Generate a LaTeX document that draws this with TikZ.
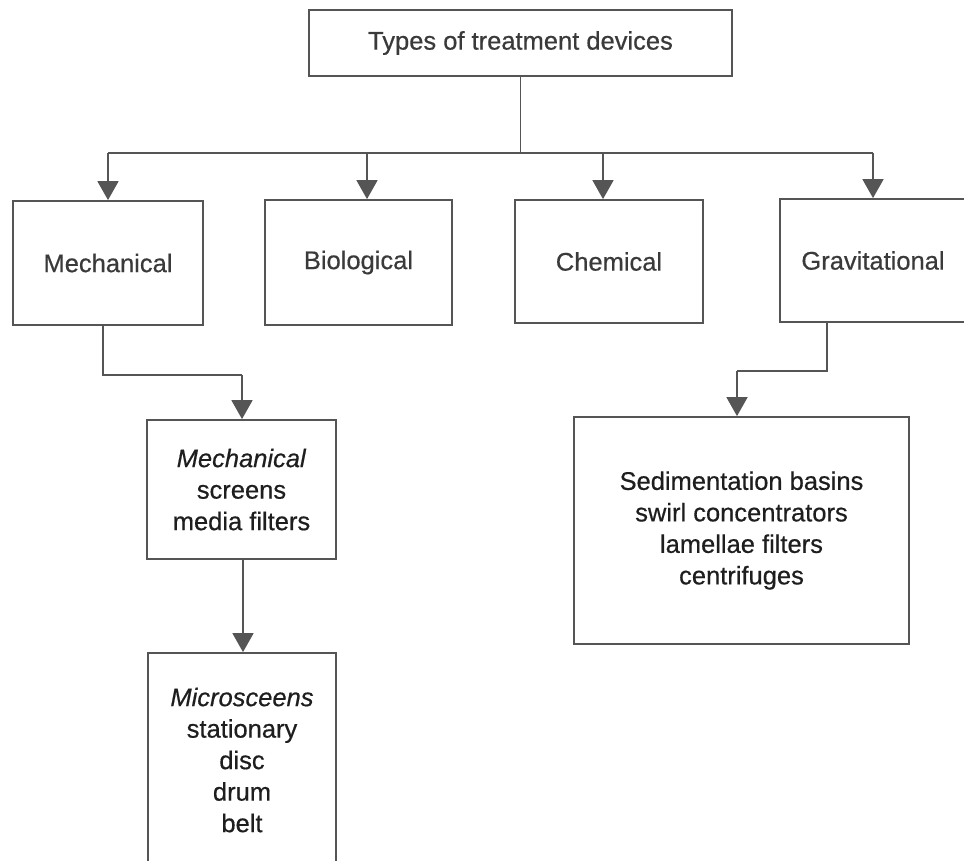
\documentclass[tikz,border=0pt]{standalone}
\usepackage{fontspec}
\setmainfont{Liberation Sans}
\usetikzlibrary{arrows.meta}
\definecolor{linegray}{HTML}{555555}
\definecolor{txtgray}{HTML}{3A3A3A}
\definecolor{txtdark}{HTML}{1E1E1E}
\tikzset{
  box/.style={draw=linegray, line width=1.8pt, rectangle, inner sep=0pt,
    align=center, font=\fontsize{25.5}{31.5}\selectfont\addfontfeature{FakeBold=0.5}},
  upper/.style={box, text=txtgray},
  lower/.style={box, text=txtdark},
  conn/.style={draw=linegray, line width=1.7pt},
  arr/.style={conn, -{Triangle[length=19pt,width=21pt]}},
}
\begin{document}
\begin{tikzpicture}[x=1pt,y=-1pt]
\clip (0,0) rectangle (964,860);
\fill[white] (0,0) rectangle (964,860);
% nodes
\node[upper, minimum width=423pt, minimum height=66pt] (top) at (520.5,43) {Types of treatment devices};
\node[upper, minimum width=190pt, minimum height=124pt] (mech) at (108,263) {Mechanical};
\node[upper, minimum width=187pt, minimum height=125pt] (bio) at (358.5,262.5) {Biological};
\node[upper, minimum width=188pt, minimum height=123pt] (chem) at (609,261.5) {Chemical};
\node[upper, minimum width=186pt, minimum height=123pt] (grav) at (873,260.5) {Gravitational};
\node[lower, minimum width=189pt, minimum height=139pt] (mscr) at (241.5,489.5) {\textit{Mechanical}\\screens\\media filters};
\node[lower, minimum width=188pt, minimum height=214pt] (micro) at (242,760) {\textit{Microsceens}\\stationary\\disc\\drum\\belt};
\node[lower, minimum width=335pt, minimum height=227pt] (sed) at (741.5,530.5) {Sedimentation basins\\swirl concentrators\\lamellae filters\\centrifuges};
% bus coordinates
\coordinate (busL) at (108,153);
\coordinate (busR) at (873,153);
\coordinate (busM) at (520.5,153);
\coordinate (busB) at (367,153);
\coordinate (busC) at (603,153);
\coordinate (m1) at (103,325);
\coordinate (m2) at (103,375);
\coordinate (m3) at (242,375);
\coordinate (g1) at (827,322);
\coordinate (g2) at (827,371);
\coordinate (g3) at (737,371);
\coordinate (s1) at (243,559);
% connectors
\draw[conn] (top.south) -- (busM);
\draw[conn] (busL) -- (busR);
\draw[arr] (busL) -- (mech.north);
\draw[arr] (busB) -- (busB |- bio.north);
\draw[arr] (busC) -- (busC |- chem.north);
\draw[arr] (busR) -- (grav.north);
\draw[conn] (m1) -- (m2) -- (m3);
\draw[arr] (m3) -- (m3 |- mscr.north);
\draw[arr] (s1) -- (s1 |- micro.north);
\draw[conn] (g1) -- (g2) -- (g3);
\draw[arr] (g3) -- (g3 |- sed.north);
\end{tikzpicture}
\end{document}
